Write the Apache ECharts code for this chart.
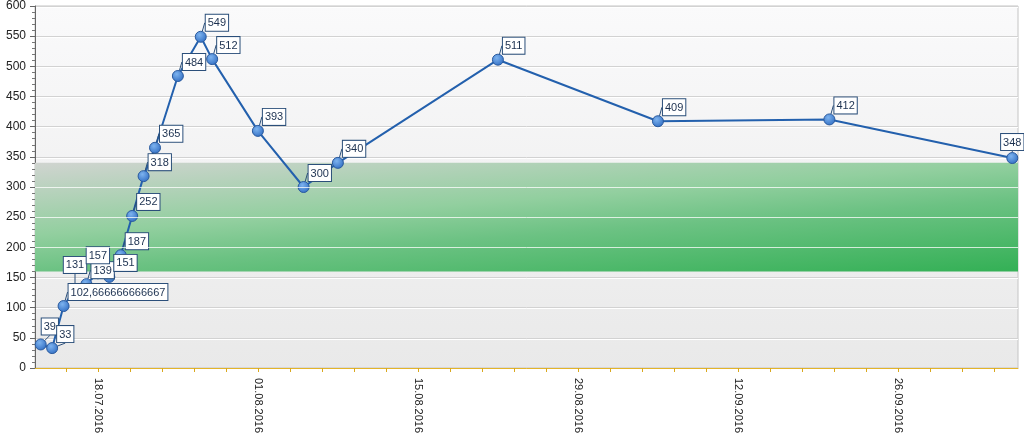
<!DOCTYPE html>
<html>
<head>
<meta charset="utf-8">
<script src="https://cdn.jsdelivr.net/npm/echarts@6/dist/echarts.min.js"></script>
<style>
html,body{margin:0;padding:0;background:#fff;}
#chart{width:1024px;height:438px;}
</style>
</head>
<body>
<div id="chart"></div>
<script>
// ---- data ----
const dates = ['13.07.2016','14.07.2016','15.07.2016','16.07.2016','17.07.2016','18.07.2016','19.07.2016','20.07.2016','21.07.2016','22.07.2016','23.07.2016','25.07.2016','27.07.2016','28.07.2016','01.08.2016','05.08.2016','08.08.2016','22.08.2016','05.09.2016','20.09.2016','06.10.2016'];
const values = [39, 33, 102.666666666667, 131, 139, 157, 151, 187, 252, 318, 365, 484, 549, 512, 393, 300, 340, 511, 409, 412, 348];
const tickLabels = ['18.07.2016','01.08.2016','15.08.2016','29.08.2016','12.09.2016','26.09.2016'];
const xFirstDate = '13.07.2016';
const xLastDate = '06.10.2016';
const yTicks = [0,50,100,150,200,250,300,350,400,450,500,550,600];
const bandRange = [160, 340];

// ---- helpers ----
const DAY = 86400000;
function parseD(s){ const p = s.split('.'); return Date.UTC(+p[2], +p[1]-1, +p[0]); }
function fmtD(t){ const d = new Date(t); const z = n => (n<10?'0':'')+n; return z(d.getUTCDate())+'.'+z(d.getUTCMonth()+1)+'.'+d.getUTCFullYear(); }

// label placement tweaks (overlap resolution like the original chart)
const labelTweaks = {
  '13.07.2016': {position: [7, -4]},
  '16.07.2016': {position: 'top', align: 'center', distance: 10},
  '18.07.2016': {position: 'top', align: 'center', distance: 4},
  '06.10.2016': {position: 'top', align: 'center', distance: 2}
};

const xMin = parseD(xFirstDate) - DAY/2;
const xMax = parseD(xLastDate) + DAY/2;
const majorTicks = tickLabels.map(parseD);
const minorStep = 14*DAY/5;
const allTicks = [];
for (let k = -5; k <= 30; k++) {
  const t = majorTicks[0] + k*minorStep;
  if (t >= xMin && t <= xMax) allTicks.push(t);
}
const seriesData = dates.map((d,i) => {
  const item = {value: [parseD(d), values[i]]};
  if (labelTweaks[d]) item.label = labelTweaks[d];
  return item;
});
const bandLines = yTicks.filter(v => v > bandRange[0] && v < bandRange[1]).map(v => ({yAxis: v}));

const chart = echarts.init(document.getElementById('chart'), null, {renderer:'canvas'});
const FONT = '"Liberation Sans", Arial, sans-serif';

chart.setOption({
  animation: false,
  grid: {
    left: 35, right: 6, top: 4, bottom: 70,
    show: true,
    borderColor: '#c4c4c4', borderWidth: 1,
    backgroundColor: new echarts.graphic.LinearGradient(0,0,0,1,[
      {offset:0, color:'#fafafb'},
      {offset:1, color:'#e9e9e9'}
    ])
  },
  xAxis: {
    type: 'value',
    min: xMin, max: xMax,
    axisLine: {show:true, lineStyle:{color:'#e3b42a', width:1}},
    axisTick: {show:true, customValues: allTicks, length:4, lineStyle:{color:'#d9a820'}},
    axisLabel: {
      customValues: majorTicks,
      rotate: -90,
      margin: 10,
      fontSize: 11,
      fontFamily: FONT,
      color: '#222',
      formatter: v => fmtD(v)
    },
    splitLine: {show:false}
  },
  yAxis: {
    type: 'value',
    min: 0, max: 600, interval: 50,
    axisLine: {show:true, lineStyle:{color:'#666'}},
    axisTick: {show:true, length:5, lineStyle:{color:'#666'}},
    minorTick: {show:true, splitNumber:5, length:3, lineStyle:{color:'#777'}},
    axisLabel: {margin: 9, fontSize: 12, fontFamily: FONT, color:'#222'},
    splitLine: {show:true, lineStyle:{color:'#d2d2d2', width:1, shadowColor:'#ffffff', shadowOffsetY:1}}
  },
  series: [
    {
      type: 'line',
      data: [],
      z: 1,
      silent: true,
      markArea: {
        silent: true,
        itemStyle: {
          color: new echarts.graphic.LinearGradient(0,0,0.0134,1.657,[
            {offset:0, color:'#d0d4d0'},
            {offset:0.4, color:'#92cf9f'},
            {offset:0.6, color:'#6cc283'},
            {offset:1, color:'#33b055'}
          ])
        },
        data: [[{yAxis: bandRange[0]}, {yAxis: bandRange[1]}]]
      },
      markLine: {
        silent: true,
        symbol: ['none','none'],
        label: {show:false},
        lineStyle: {color:'rgba(255,255,255,0.75)', type:'solid', width:1},
        data: bandLines
      }
    },
    {
      type: 'line',
      data: seriesData,
      z: 3,
      symbol: 'circle',
      symbolSize: 11,
      lineStyle: {color:'#2360ad', width:2},
      itemStyle: {
        color: new echarts.graphic.RadialGradient(0.4,0.35,0.7,[
          {offset:0, color:'#7db3ef'},
          {offset:1, color:'#2f6cc2'}
        ]),
        borderColor: '#2a5a9e',
        borderWidth: 1
      },
      label: {
        show: true,
        position: [11, 0],
        align: 'left',
        verticalAlign: 'bottom',
        fontSize: 11,
        fontFamily: FONT,
        color: '#1c3150',
        backgroundColor: '#ffffff',
        borderColor: '#2b4f7a',
        borderWidth: 1,
        padding: [2, 2, 1, 2],
        lineHeight: 13,
        formatter: p => String(p.value[1]).replace('.', ',')
      },
      labelLine: {show:true, lineStyle:{color:'#2b4f7a', width:1}}
    }
  ]
});
</script>
</body>
</html>
